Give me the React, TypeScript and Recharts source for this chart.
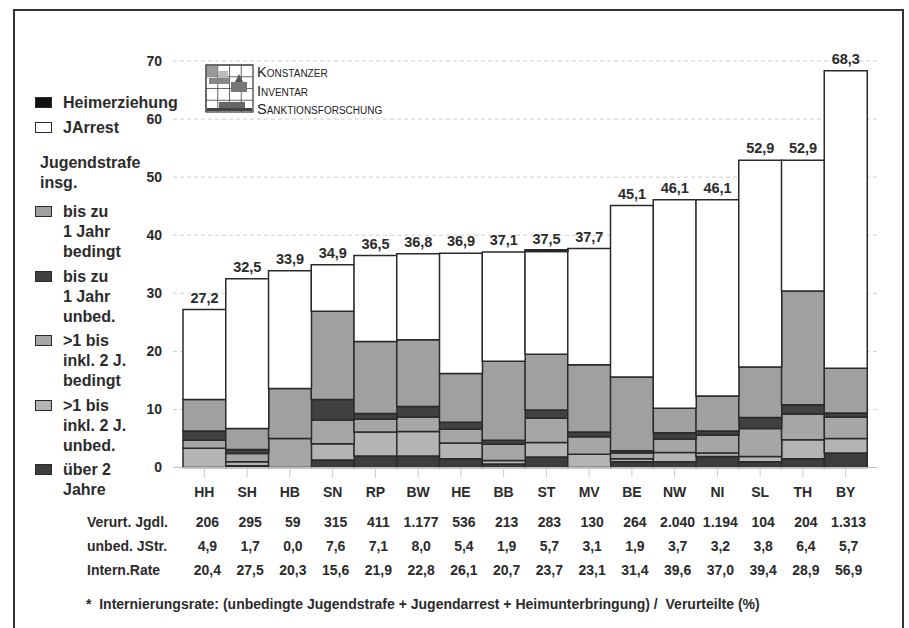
import React from 'react';
import { BarChart, Bar, XAxis, YAxis, CartesianGrid, LabelList } from 'recharts';

const states = ['HH', 'SH', 'HB', 'SN', 'RP', 'BW', 'HE', 'BB', 'ST', 'MV', 'BE', 'NW', 'NI', 'SL', 'TH', 'BY'];

// stacked from the bottom up
const ueber2 = [0, 0.3, 0, 1.3, 2.0, 2.0, 1.5, 0.6, 1.8, 0, 1.0, 1.0, 1.9, 1.0, 1.5, 2.5];
const bis2Unbed = [3.3, 0.7, 0, 2.8, 4.1, 4.2, 2.7, 0.6, 2.5, 2.3, 0.5, 1.6, 0.6, 0.9, 3.3, 2.5];
const bis2Bed = [1.4, 1.4, 5.0, 4.1, 2.2, 2.5, 2.4, 2.8, 4.2, 3.0, 1.0, 2.3, 3.1, 4.8, 4.4, 3.7];
const bis1Unbed = [1.6, 0.7, 0, 3.5, 1.0, 1.8, 1.2, 0.7, 1.4, 0.8, 0.4, 1.1, 0.7, 1.9, 1.6, 0.7];
const bis1Bed = [5.4, 3.6, 8.6, 15.2, 12.4, 11.5, 8.4, 13.6, 9.6, 11.6, 12.7, 4.2, 6.0, 8.7, 19.6, 7.7];
const jarrest = [15.5, 25.8, 20.3, 8.0, 14.8, 14.8, 20.7, 18.8, 17.7, 20.0, 29.5, 35.9, 33.8, 35.6, 22.5, 51.2];
const heim = [0, 0, 0, 0, 0, 0, 0, 0, 0.3, 0, 0, 0, 0, 0, 0, 0];
const totals = [27.2, 32.5, 33.9, 34.9, 36.5, 36.8, 36.9, 37.1, 37.5, 37.7, 45.1, 46.1, 46.1, 52.9, 52.9, 68.3];

// table below the chart
const verurteilte = ['206', '295', '59', '315', '411', '1.177', '536', '213', '283', '130', '264', '2.040', '1.194', '104', '204', '1.313'];
const unbedJStr = [4.9, 1.7, 0.0, 7.6, 7.1, 8.0, 5.4, 1.9, 5.7, 3.1, 1.9, 3.7, 3.2, 3.8, 6.4, 5.7];
const internRate = [20.4, 27.5, 20.3, 15.6, 21.9, 22.8, 26.1, 20.7, 23.7, 23.1, 31.4, 39.6, 37.0, 39.4, 28.9, 56.9];

const yTicks = [0, 10, 20, 30, 40, 50, 60, 70];

const chartData = states.map((s, i) => ({
  state: s,
  ueber2: ueber2[i],
  bis2Unbed: bis2Unbed[i],
  bis2Bed: bis2Bed[i],
  bis1Unbed: bis1Unbed[i],
  bis1Bed: bis1Bed[i],
  jarrest: jarrest[i],
  heim: heim[i],
  total: totals[i],
}));

const FONT = '"Liberation Sans", Arial, sans-serif';
const TEXT = '#2b2b2b';
const EDGE = '#2a2a2a';

const C = {
  heim: '#111111',
  jarrest: '#ffffff',
  bis1Bed: '#a0a0a0',
  bis1Unbed: '#414141',
  bis2Bed: '#a6a6a6',
  bis2Unbed: '#b4b4b4',
  ueber2: '#3d3d3d',
};

const de = (v: number) => v.toFixed(1).replace('.', ',');

function TableTick(props: any) {
  const { x, y, payload } = props;
  const i = states.indexOf(payload.value);
  const common = { fontFamily: FONT, fontWeight: 700, fill: TEXT, textAnchor: 'middle' as const };
  return (
    <g>
      <text x={x} y={y + 17.5} fontSize={14} {...common}>{payload.value}</text>
      <text x={x + 3} y={y + 47.5} fontSize={14} {...common}>{verurteilte[i]}</text>
      <text x={x + 3} y={y + 71.5} fontSize={14} {...common}>{de(unbedJStr[i])}</text>
      <text x={x + 3} y={y + 95.5} fontSize={14} {...common}>{de(internRate[i])}</text>
    </g>
  );
}

type LegendEntry = { lines: string[]; color?: string; heading?: boolean };

const legendEntries: LegendEntry[] = [
  { lines: ['Heimerziehung'], color: C.heim },
  { lines: ['JArrest'], color: C.jarrest },
  { lines: ['Jugendstrafe', 'insg.'], heading: true },
  { lines: ['bis zu', '1 Jahr', 'bedingt'], color: C.bis1Bed },
  { lines: ['bis zu', '1 Jahr', 'unbed.'], color: C.bis1Unbed },
  { lines: ['>1 bis', 'inkl. 2 J.', 'bedingt'], color: C.bis2Bed },
  { lines: ['>1 bis', 'inkl. 2 J.', 'unbed.'], color: C.bis2Unbed },
  { lines: ['über 2', 'Jahre'], color: C.ueber2 },
];

function SideLegend() {
  const tops = [103, 128, 163, 212, 277, 341, 406, 470];
  return (
    <>
      {legendEntries.map((e, k) => (
        <div key={k}>
          {e.color && (
            <div
              style={{
                position: 'absolute',
                left: 35,
                top: tops[k] - 6,
                width: 17,
                height: 11,
                boxSizing: 'border-box',
                background: e.color,
                border: `1.5px solid ${EDGE}`,
              }}
            />
          )}
          {e.lines.map((l, j) => (
            <div
              key={j}
              style={{
                position: 'absolute',
                left: e.heading ? 40 : 63,
                top: tops[k] + j * 20 - 10,
                height: 20,
                lineHeight: '20px',
                fontFamily: FONT,
                fontWeight: 700,
                fontSize: 16,
                color: TEXT,
                whiteSpace: 'nowrap',
              }}
            >
              {l}
            </div>
          ))}
        </div>
      ))}
    </>
  );
}

function Logo() {
  const cells = [0, 1, 2, 3];
  return (
    <div style={{ position: 'absolute', left: 205, top: 64 }}>
      <svg width={50} height={50} style={{ position: 'absolute', left: 0, top: 0 }}>
        <rect x={1} y={1} width={47} height={47} fill="#fff" stroke="#333" strokeWidth={1.2} />
        {cells.map((c) => (
          <g key={c}>
            <line x1={1 + c * 11.75} y1={1} x2={1 + c * 11.75} y2={48} stroke="#444" strokeWidth={0.8} />
            <line x1={1} y1={1 + c * 11.75} x2={48} y2={1 + c * 11.75} stroke="#444" strokeWidth={0.8} />
          </g>
        ))}
        <rect x={2} y={2} width={10} height={10} fill="#999" />
        <rect x={13} y={7} width={10} height={8} fill="#bbb" />
        <rect x={4} y={14} width={20} height={6} fill="#888" />
        <polygon points="30,18 34,10 38,18" fill="#555" />
        <rect x={26} y={18} width={16} height={10} fill="#777" />
        <rect x={14} y={38} width={26} height={7} fill="#666" />
        <rect x={2} y={44} width={45} height={3} fill="#444" />
      </svg>
      {['Konstanzer', 'Inventar', 'Sanktionsforschung'].map((t, k) => (
        <div
          key={t}
          style={{
            position: 'absolute',
            left: 52,
            top: k * 18.5,
            lineHeight: '16px',
            fontFamily: FONT,
            fontSize: 14.5,
            fontVariant: 'small-caps',
            color: '#222',
            whiteSpace: 'nowrap',
          }}
        >
          {t}
        </div>
      ))}
    </div>
  );
}

export default function App() {
  const rowLabel = (text: string, top: number) => (
    <div
      style={{
        position: 'absolute',
        left: 87,
        top: top - 10,
        lineHeight: '20px',
        fontFamily: FONT,
        fontWeight: 700,
        fontSize: 14,
        color: TEXT,
        whiteSpace: 'nowrap',
      }}
    >
      {text}
    </div>
  );

  return (
    <div
      style={{
        position: 'absolute',
        left: 0,
        top: 0,
        width: 909,
        height: 628,
        overflow: 'hidden',
        background: '#fff',
      }}
    >
      <div
        style={{
          position: 'absolute',
          left: 13,
          top: 9,
          width: 891,
          height: 700,
          boxSizing: 'border-box',
          border: '2px solid #333',
        }}
      />
      <div style={{ position: 'absolute', left: 0, top: 0 }}>
        <BarChart
          width={909}
          height={628}
          data={chartData}
          margin={{ top: 61, right: 32, bottom: 130.5, left: 133 }}
          barCategoryGap={0}
          barGap={0}
        >
          <CartesianGrid vertical={false} stroke="#cfcfcf" strokeDasharray="4 3" />
          <XAxis
            dataKey="state"
            height={30}
            padding={{ left: 10, right: 10 }}
            interval={0}
            tickSize={10}
            tickMargin={2}
            tickLine={{ stroke: '#cccccc' }}
            axisLine={{ stroke: '#bdbdbd' }}
            tick={<TableTick />}
          />
          <YAxis
            width={40}
            domain={[0, 70]}
            ticks={yTicks}
            interval={0}
            tickSize={0}
            tickMargin={11}
            axisLine={false}
            tickLine={false}
            tick={{ fontFamily: FONT, fontWeight: 700, fontSize: 14, fill: TEXT }}
          />
          <Bar dataKey="ueber2" stackId="a" fill={C.ueber2} stroke={EDGE} strokeWidth={1.5} isAnimationActive={false} />
          <Bar dataKey="bis2Unbed" stackId="a" fill={C.bis2Unbed} stroke={EDGE} strokeWidth={1.5} isAnimationActive={false} />
          <Bar dataKey="bis2Bed" stackId="a" fill={C.bis2Bed} stroke={EDGE} strokeWidth={1.5} isAnimationActive={false} />
          <Bar dataKey="bis1Unbed" stackId="a" fill={C.bis1Unbed} stroke={EDGE} strokeWidth={1.5} isAnimationActive={false} />
          <Bar dataKey="bis1Bed" stackId="a" fill={C.bis1Bed} stroke={EDGE} strokeWidth={1.5} isAnimationActive={false} />
          <Bar dataKey="jarrest" stackId="a" fill={C.jarrest} stroke={EDGE} strokeWidth={1.5} isAnimationActive={false}>
            <LabelList
              dataKey="total"
              position="top"
              offset={7}
              formatter={(v: any) => de(Number(v))}
              style={{ fontFamily: FONT, fontWeight: 700, fontSize: 14.5, fill: TEXT }}
            />
          </Bar>
          <Bar dataKey="heim" stackId="a" fill={C.heim} stroke={EDGE} strokeWidth={1.5} isAnimationActive={false} />
        </BarChart>
      </div>
      <SideLegend />
      <Logo />
      {rowLabel('Verurt. Jgdl.', 522)}
      {rowLabel('unbed. JStr.', 546)}
      {rowLabel('Intern.Rate', 570)}
      <div
        style={{
          position: 'absolute',
          left: 86,
          top: 594,
          lineHeight: '20px',
          fontFamily: FONT,
          fontWeight: 700,
          fontSize: 14,
          color: TEXT,
          whiteSpace: 'pre',
        }}
      >
        {'*  Internierungsrate: (unbedingte Jugendstrafe + Jugendarrest + Heimunterbringung) /  Verurteilte (%)'}
      </div>
    </div>
  );
}
